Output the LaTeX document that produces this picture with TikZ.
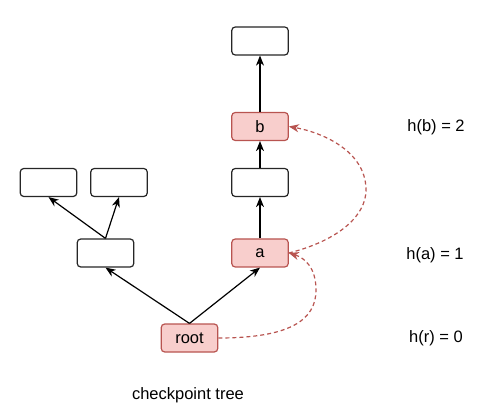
\documentclass[tikz,border=0pt]{standalone}
\usepackage{fontspec}
\setmainfont{Liberation Sans}
\usetikzlibrary{arrows.meta}
\definecolor{redfill}{HTML}{F8CECC}
\definecolor{redline}{HTML}{B85450}
\tikzset{
  box/.style={draw=black!85, line width=1.2pt, rounded corners=3.5pt, minimum width=56.5pt, minimum height=28pt, inner sep=0pt, font=\fontsize{16.5}{19}\selectfont, fill=white},
  redbox/.style={box, draw=redline, fill=redfill},
  edge/.style={draw=black, line width=1.2pt, -{Stealth[length=10pt,width=8pt,inset=3pt]}},
  redge/.style={draw=redline, line width=1.2pt, dashed, dash pattern=on 4pt off 3pt, -{Stealth[length=10pt,width=8pt,inset=3pt]}},
  lbl/.style={font=\fontsize{16.5}{19}\selectfont, inner sep=0pt}
}
\begin{document}
\begin{tikzpicture}[x=1pt,y=-1pt]
\useasboundingbox (0,0) rectangle (484,411);
\node[box] (top) at (260,41) {};
\node[redbox] (b) at (260,126.5) {b};
\node[box] (mid) at (260,182.5) {};
\node[redbox] (a) at (260,253) {a};
\node[box] (lm) at (105.5,253) {};
\node[box] (tl1) at (48.5,182.5) {};
\node[box] (tl2) at (119,182.5) {};
\node[redbox] (root) at (189.5,338) {root};
\node[lbl] (hb) at (436,127) {h(b) = 2};
\node[lbl] (ha) at (435,255) {h(a) = 1};
\node[lbl] (hr) at (436,338) {h(r) = 0};
\node[lbl] (cap) at (188,395) {checkpoint tree};
\draw[edge] (root.north) -- (lm.south);
\draw[edge] (root.north) -- (a.south);
\draw[edge] (lm.north) -- (tl1.south);
\draw[edge] (lm.north) -- (tl2.south);
\draw[edge] (a.north) -- (mid.south);
\draw[edge] (mid.north) -- (b.south);
\draw[edge] (b.north) -- (top.south);
\draw[redge] (root.east) .. controls (290,338) and (316,320) .. (316,290) .. controls (316,268) and (305,258) .. (a.east);
\draw[redge] (a.east) .. controls (340,240) and (366,215) .. (366,190) .. controls (366,150) and (320,132) .. (b.east);
\end{tikzpicture}
\end{document}
